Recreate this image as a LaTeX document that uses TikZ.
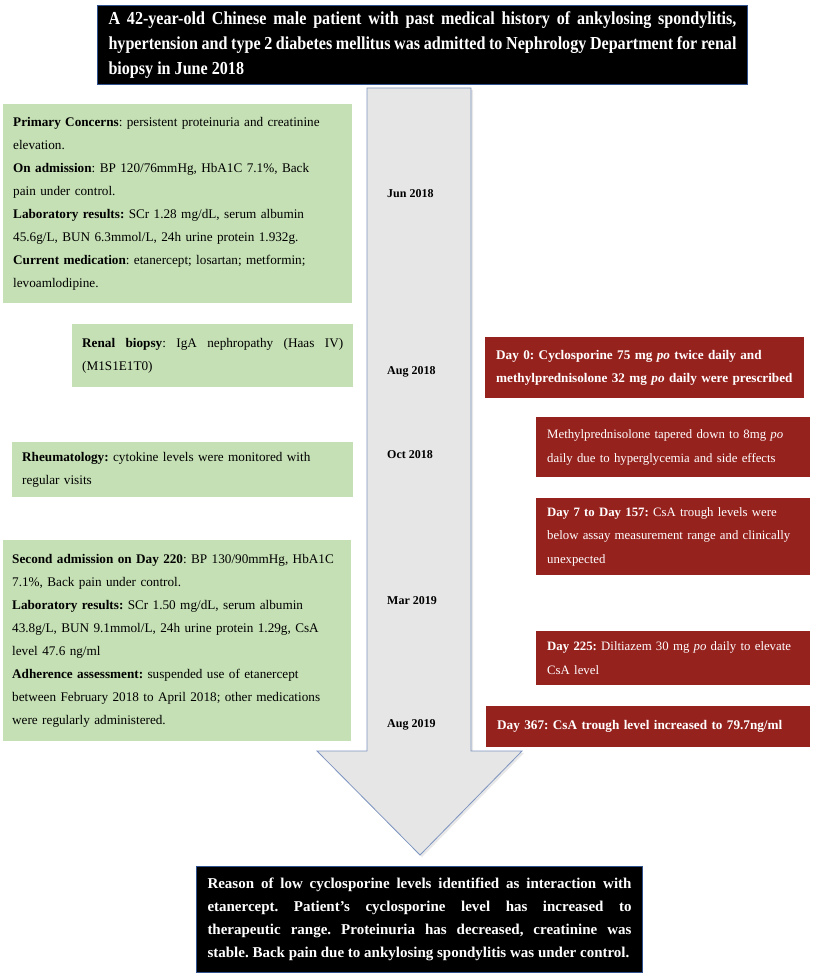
\documentclass[tikz,border=0pt]{standalone}
\usepackage{fontspec}
\setmainfont{Liberation Serif}
\newfontfamily\narrowserif[FakeStretch=0.88]{Liberation Serif}
\usepackage{xcolor}
\usepackage{tikz}
\usetikzlibrary{shadows}
\definecolor{frameblue}{RGB}{47, 82, 143}
\definecolor{notegreen}{RGB}{197, 224, 180}
\definecolor{notered}{RGB}{150, 34, 30}
\definecolor{shaftgray}{RGB}{230, 230, 230}
\definecolor{shaftedge}{RGB}{125, 148, 192}
\frenchspacing
\hyphenpenalty=10000
\exhyphenpenalty=10000

\tikzset{
  darkbox/.style={draw=frameblue, line width=1pt, fill=black, text=white, align=justify, anchor=north west, inner xsep=11pt},
  greenbox/.style={fill=notegreen, align=left, anchor=north west, inner xsep=10pt, font=\fontsize{13.2}{23}\selectfont},
  redbox/.style={fill=notered, text=white, align=left, anchor=north west, inner xsep=11pt, font=\fontsize{12.8}{23.5}\selectfont},
  datelabel/.style={anchor=west, inner sep=0pt, font=\bfseries\fontsize{12}{14}\selectfont}
}

\begin{document}
\begin{tikzpicture}[x=1pt, y=-1pt]
  \useasboundingbox (0,0) rectangle (815,976);

  \fill[white] (0,0) rectangle (815,976);

  \draw[fill=shaftgray, draw=shaftedge, line width=0.8pt, drop shadow={shadow xshift=2pt, shadow yshift=-2pt, fill=gray!35}]
    (367,88) -- (471,88) -- (471,751) -- (522,751) -- (420,855) -- (317,751) -- (367,751) -- cycle;

  \node[darkbox, text width=628pt, minimum height=79pt, font=\narrowserif\bfseries\fontsize{18.3}{25}\selectfont] (start) at (97,5)
    {A 42-year-old Chinese male patient with past medical history of ankylosing spondylitis,\linebreak
     hypertension and type 2 diabetes mellitus was admitted to Nephrology Department for renal\linebreak
     biopsy in June 2018};

  \node[greenbox, text width=329pt, minimum height=199pt] (concerns) at (3,104)
    {\textbf{Primary Concerns}: persistent proteinuria and creatinine\\ elevation.\\
     \textbf{On admission}: BP 120/76mmHg, HbA1C 7.1\%, Back\\ pain under control.\\
     \textbf{Laboratory results:} SCr 1.28 mg/dL, serum albumin\\ 45.6g/L, BUN 6.3mmol/L, 24h urine protein 1.932g.\\
     \textbf{Current medication}: etanercept; losartan; metformin;\\ levoamlodipine.};

  \node[greenbox, align=justify, text width=261pt, minimum height=63pt] (biopsy) at (72,324)
    {\textbf{Renal biopsy}: IgA nephropathy (Haas IV)\linebreak (M1S1E1T0)};

  \node[greenbox, text width=321pt, minimum height=55pt] (rheum) at (12,442)
    {\textbf{Rheumatology:} cytokine levels were monitored with\\ regular visits};

  \node[greenbox, text width=330pt, inner xsep=9pt, minimum height=201pt] (second) at (3,540)
    {\textbf{Second admission on Day 220}: BP 130/90mmHg, HbA1C\\ 7.1\%, Back pain under control.\\
     \textbf{Laboratory results:} SCr 1.50 mg/dL, serum albumin\\ 43.8g/L, BUN 9.1mmol/L, 24h urine protein 1.29g, CsA\\ level 47.6 ng/ml\\
     \textbf{Adherence assessment:} suspended use of etanercept\\ between February 2018 to April 2018; other medications\\ were regularly administered.};

  \node[datelabel] (jun18) at (387,194) {Jun 2018};
  \node[datelabel] (aug18) at (387,372) {Aug 2018};
  \node[datelabel] (oct18) at (387,455) {Oct 2018};
  \node[datelabel] (mar19) at (387,601) {Mar 2019};
  \node[datelabel] (aug19) at (387,725) {Aug 2019};

  \node[redbox, text width=297pt, minimum height=61pt, font=\bfseries\fontsize{13.2}{23.5}\selectfont] (day0) at (485,337)
    {Day 0: Cyclosporine 75 mg \textit{po} twice daily and\\ methylprednisolone 32 mg \textit{po} daily were prescribed};

  \node[redbox, text width=252pt, minimum height=60pt] (taper) at (536,417)
    {Methylprednisolone tapered down to 8mg \textit{po}\\ daily due to hyperglycemia and side effects};

  \node[redbox, text width=252pt, minimum height=77pt] (trough) at (536,498)
    {\textbf{Day 7 to Day 157:} CsA trough levels were\\ below assay measurement range and clinically\\ unexpected};

  \node[redbox, text width=252pt, minimum height=54pt] (day225) at (536,631)
    {\textbf{Day 225:} Diltiazem 30 mg \textit{po} daily to elevate\\ CsA level};

  \node[redbox, text width=302pt, minimum height=41pt, font=\bfseries\fontsize{13.2}{23.5}\selectfont] (day367) at (486,706)
    {Day 367: CsA trough level increased to 79.7ng/ml};

  \node[darkbox, text width=424pt, minimum height=106pt, font=\bfseries\fontsize{15}{23}\selectfont] (outcome) at (196,866)
    {Reason of low cyclosporine levels identified as interaction with\linebreak
     etanercept. Patient’s cyclosporine level has increased to\linebreak
     therapeutic range. Proteinuria has decreased, creatinine was\linebreak
     stable. Back pain due to ankylosing spondylitis was under control.};
\end{tikzpicture}
\end{document}
